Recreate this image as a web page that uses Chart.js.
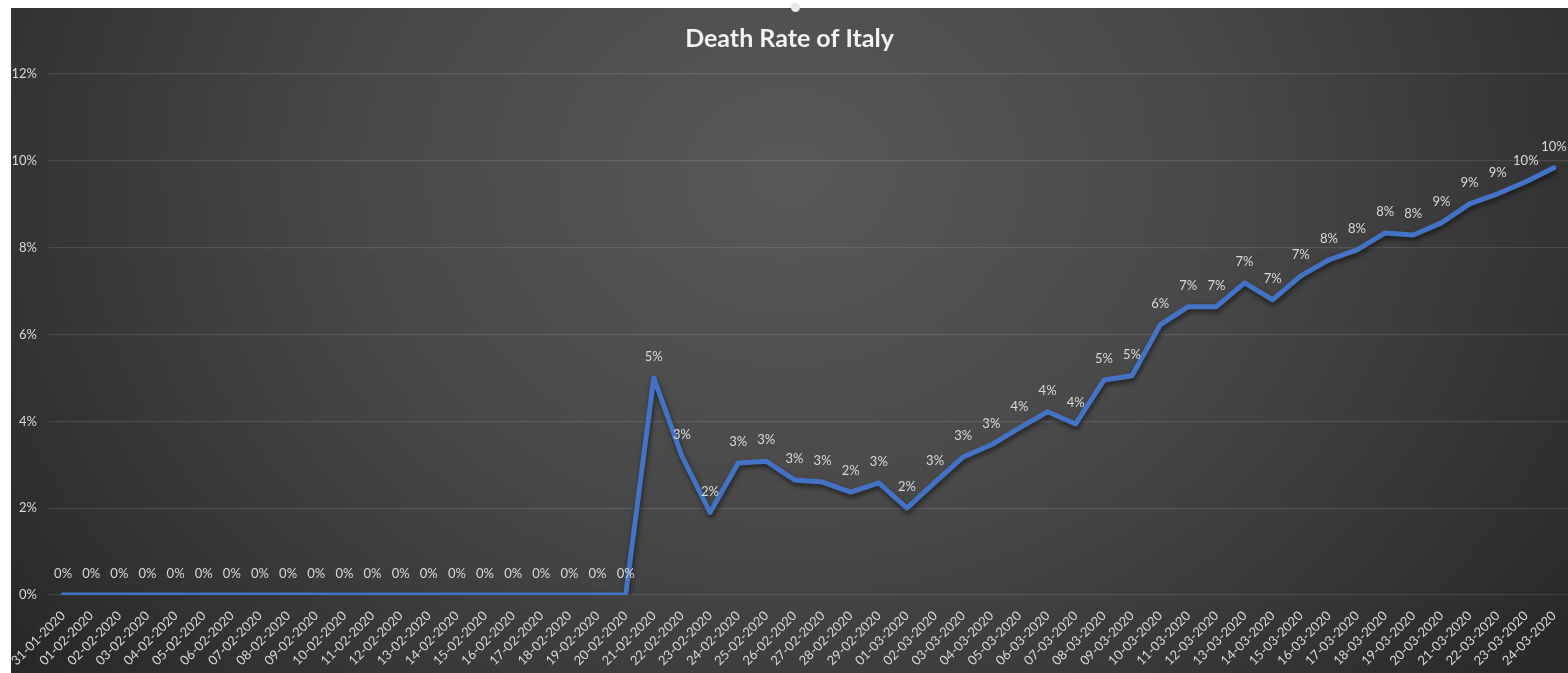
<!DOCTYPE html>
<html>
<head>
<meta charset="utf-8">
<script src="https://cdn.jsdelivr.net/npm/chart.js@4.4.1/dist/chart.umd.min.js"></script>
<style>
  html, body { margin: 0; padding: 0; background: #ffffff; width: 1568px; height: 673px; overflow: hidden; }
  #wrap {
    position: absolute; left: 11px; top: 8px; width: 1557px; height: 665px;
    background: radial-gradient(ellipse 62% 120% at 50% 25%, #585858 0%, #484848 45%, #282828 100%);
  }
  #dot { position: absolute; left: 791px; top: 3px; width: 9px; height: 9px; border-radius: 50%; background: #e8e8e8; }
</style>
</head>
<body>
<div id="wrap"><canvas id="c"></canvas></div>
<div id="dot"></div>
<script>
const categories = [
  "31-01-2020","01-02-2020","02-02-2020","03-02-2020","04-02-2020","05-02-2020","06-02-2020",
  "07-02-2020","08-02-2020","09-02-2020","10-02-2020","11-02-2020","12-02-2020","13-02-2020",
  "14-02-2020","15-02-2020","16-02-2020","17-02-2020","18-02-2020","19-02-2020","20-02-2020",
  "21-02-2020","22-02-2020","23-02-2020","24-02-2020","25-02-2020","26-02-2020","27-02-2020",
  "28-02-2020","29-02-2020","01-03-2020","02-03-2020","03-03-2020","04-03-2020","05-03-2020",
  "06-03-2020","07-03-2020","08-03-2020","09-03-2020","10-03-2020","11-03-2020","12-03-2020",
  "13-03-2020","14-03-2020","15-03-2020","16-03-2020","17-03-2020","18-03-2020","19-03-2020",
  "20-03-2020","21-03-2020","22-03-2020","23-03-2020","24-03-2020"
];
const deathRate = [
  0,0,0,0,0,0,0,0,0,0,0,0,0,0,0,0,0,0,0,0,0,
  5.0,3.2,1.9,3.04,3.08,2.65,2.6,2.37,2.58,2.0,
  2.6,3.18,3.46,3.85,4.22,3.94,4.95,5.05,6.22,6.64,6.64,
  7.19,6.8,7.35,7.72,7.95,8.34,8.29,8.57,9.01,9.24,9.52,9.84
];
const yTicks = [0,2,4,6,8,10,12];
const chartTitle = "Death Rate of Italy";

const labelPlugin = {
  id: 'pointLabels',
  beforeDatasetDraw(chart) {
    const ctx = chart.ctx;
    ctx.save();
    ctx.shadowColor = 'rgba(0,0,0,0.55)';
    ctx.shadowBlur = 5;
    ctx.shadowOffsetX = 1;
    ctx.shadowOffsetY = 3;
  },
  afterDatasetDraw(chart) {
    chart.ctx.restore();
  },
  afterDatasetsDraw(chart) {
    const ctx = chart.ctx;
    const meta = chart.getDatasetMeta(0);
    ctx.save();
    ctx.font = '13px Lato, "Open Sans", sans-serif';
    ctx.fillStyle = '#d9d9d9';
    ctx.textAlign = 'center';
    ctx.textBaseline = 'middle';
    meta.data.forEach((pt, i) => {
      ctx.fillText(Math.round(deathRate[i]) + '%', pt.x, pt.y - 21);
    });
    ctx.restore();
  }
};

new Chart(document.getElementById('c'), {
  type: 'line',
  data: {
    labels: categories,
    datasets: [{
      data: deathRate,
      borderColor: '#4472C4',
      borderWidth: 5,
      pointRadius: 0,
      tension: 0,
      fill: false,
      borderJoinStyle: 'round',
      borderCapStyle: 'round'
    }]
  },
  options: {
    responsive: true,
    maintainAspectRatio: false,
    animation: false,
    layout: { padding: 0 },
    plugins: {
      legend: { display: false },
      tooltip: { enabled: false },
      title: {
        display: true,
        text: chartTitle,
        color: '#f2f2f2',
        font: { family: 'Lato, "Open Sans", sans-serif', size: 25, weight: 'bold', lineHeight: 1.2 },
        padding: { top: 16, bottom: 20 }
      }
    },
    scales: {
      x: {
        offset: true,
        grid: { display: false, drawTicks: false },
        border: { display: false },
        afterFit(axis) { axis.height = 78; axis.paddingLeft = 0; axis.paddingRight = 0; },
        ticks: {
          color: '#d9d9d9',
          font: { family: 'Lato, "Open Sans", sans-serif', size: 13 },
          maxRotation: 45, minRotation: 45,
          autoSkip: false,
          padding: 13
        }
      },
      y: {
        min: 0, max: 12,
        afterBuildTicks(axis) { axis.ticks = yTicks.map(v => ({ value: v })); },
        afterFit(axis) { axis.width = 38; axis.paddingTop = 0; axis.paddingBottom = 0; },
        grid: { color: 'rgba(255,255,255,0.11)', lineWidth: 1.2, drawTicks: false },
        border: { display: false },
        ticks: {
          color: '#d9d9d9',
          font: { family: 'Lato, "Open Sans", sans-serif', size: 13 },
          padding: 12,
          callback: v => v + '%'
        }
      }
    }
  },
  plugins: [labelPlugin]
});
</script>
</body>
</html>
